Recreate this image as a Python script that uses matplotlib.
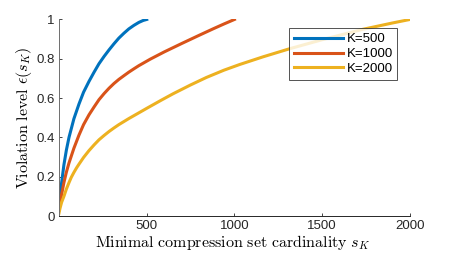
import matplotlib.pyplot as plt

plt.rcParams['mathtext.fontset'] = 'cm'
plt.rcParams['font.family'] = ['Liberation Sans', 'DejaVu Sans']

# values
s500 = [0, 6, 15, 28, 42, 57, 85, 114, 140, 171, 200, 228, 257, 285, 313, 341, 370, 398, 427, 455, 480, 500]
e500 = [0.045, 0.10, 0.17, 0.26, 0.335, 0.40, 0.495, 0.57, 0.63, 0.685, 0.732, 0.775, 0.812, 0.845, 0.876,
        0.905, 0.93, 0.952, 0.97, 0.985, 0.995, 1.0]

s1000 = [0, 6, 15, 28, 42, 57, 85, 114, 140, 171, 200, 228, 257, 285, 313, 341, 370, 398, 427, 455, 520,
         600, 700, 800, 880, 940, 1000]
e1000 = [0.03, 0.065, 0.11, 0.17, 0.223, 0.27, 0.345, 0.412, 0.465, 0.515, 0.555, 0.592, 0.623, 0.65, 0.674,
         0.695, 0.714, 0.732, 0.749, 0.765, 0.798, 0.835, 0.878, 0.92, 0.953, 0.977, 1.0]

s2000 = [0, 6, 15, 28, 42, 57, 70, 85, 100, 114, 140, 171, 200, 228, 257, 285, 313, 341, 398, 455, 508, 580,
         650, 750, 840, 940, 1030, 1163, 1314, 1500, 1732, 1900, 2000]
e2000 = [0.015, 0.04, 0.07, 0.10, 0.137, 0.17, 0.197, 0.222, 0.245, 0.264, 0.298, 0.333, 0.362, 0.388, 0.41,
         0.43, 0.448, 0.465, 0.496, 0.525, 0.552, 0.588, 0.622, 0.667, 0.705, 0.742, 0.771, 0.81, 0.851,
         0.897, 0.95, 0.982, 1.0]

labels = ['K=500', 'K=1000', 'K=2000']
colors = ['#0072BD', '#D95319', '#EDB120']
xticks = [500, 1000, 1500, 2000]
yticks = [0, 0.2, 0.4, 0.6, 0.8, 1]

fig = plt.figure(figsize=(4.52, 2.56), dpi=100)
ax = fig.add_axes([0.1305, 0.156, 0.7765, 0.768])

for s, e, lab, c in zip([s500, s1000, s2000], [e500, e1000, e2000], labels, colors):
    ax.plot(s, e, color=c, lw=2.2, label=lab)

ax.set_xlim(0, 2000)
ax.set_ylim(0, 1)
ax.set_xticks(xticks)
ax.set_yticks(yticks)
ax.set_yticklabels(['0', '0.2', '0.4', '0.6', '0.8', '1'])
ax.tick_params(direction='in', length=2.5, width=0.6, labelsize=9.5, colors='#262626', pad=3)

for side in ['top', 'right']:
    ax.spines[side].set_visible(False)
ax.spines['left'].set_color('#6e6e6e')
ax.spines['bottom'].set_color('#262626')
ax.spines['left'].set_linewidth(0.7)
ax.spines['bottom'].set_linewidth(0.7)

ax.set_xlabel(r'$\mathrm{Minimal\ compression\ set\ cardinality}\ s_K$', fontsize=11.5, labelpad=0)
ax.set_ylabel(r'$\mathrm{Violation\ level}\ \epsilon(s_K)$', fontsize=11.5, labelpad=2)
ax.xaxis.set_label_coords(0.495, -0.085)

leg = ax.legend(loc='upper left', bbox_to_anchor=(0.656, 0.954), fontsize=9.5, frameon=True,
                fancybox=False, edgecolor='#262626', handlelength=3.7, handletextpad=0.3,
                borderpad=0.35, labelspacing=0.2, borderaxespad=0)
leg.get_frame().set_linewidth(0.7)

fig.savefig('out.png', dpi=100)
